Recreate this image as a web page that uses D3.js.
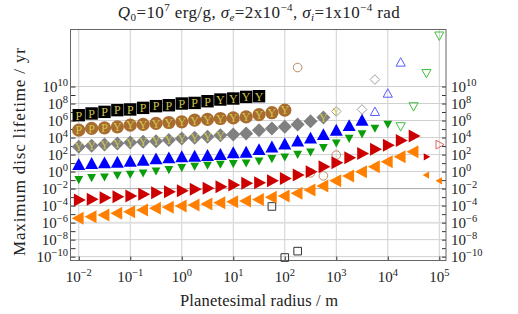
<!DOCTYPE html>
<html>
<head>
<meta charset="utf-8">
<script src="https://cdn.jsdelivr.net/npm/d3@7"></script>
<style>
  body { margin: 0; background: #fff; }
  svg { display: block; font-family: "Liberation Serif", "DejaVu Serif", serif; }
</style>
</head>
<body>
<svg id="chart" width="518" height="314"></svg>
<script>
// radius values, as log10(m), one marker every quarter decade
const radiusExp = [-2, -1.75, -1.5, -1.25, -1, -0.75, -0.5, -0.25, 0, 0.25, 0.5, 0.75, 1, 1.25, 1.5,
                   1.75, 2, 2.25, 2.5, 2.75, 3, 3.25, 3.5, 3.75, 4, 4.25, 4.5, 4.75, 5];

// lifetimes, as log10(yr); filled runs start at radiusExp[0]
const blackLogT = [6.63, 6.83, 7.02, 7.22, 7.30, 7.49, 7.69, 7.80, 8.00, 8.07, 8.27, 8.47, 8.59, 8.78, 8.86];
const blackTags = "PPPPPPPPPPPYYYY";
const blackOpenR = [1.75, 2, 2.25];
const blackOpenT = [-4.1, -10.1, -9.35];

const brownLogT = [4.87, 5.07, 5.14, 5.26, 5.46, 5.54, 5.66, 5.77, 5.85, 6.04, 6.13, 6.24, 6.31, 6.43, 6.69, 6.92, 7.22];
const brownTags = "PPPYYYYYYYYYYYYYY";
const brownOpenR = [2.25, 2.5, 2.75, 3];
const brownOpenT = [12.23, -0.15, -0.5, 1.94];

const grayLogT = [2.91, 3.03, 3.19, 3.31, 3.43, 3.50, 3.58, 3.70, 3.90, 3.97, 4.09, 4.28, 4.37, 4.48, 4.87, 5.05, 5.26, 5.52, 5.93, 6.36];
const grayTags = "YYYYYYYYYYYY       Y";
const grayOpenR = [3, 3.5, 3.75];
const grayOpenT = [7.07, 7.30, 10.82];
const grayOpenTags = "Y  ";

const blueLogT = [0.76, 0.88, 0.96, 1.03, 1.15, 1.27, 1.43, 1.55, 1.67, 1.74, 1.82, 1.94, 2.14, 2.21, 2.52, 2.82,
                  3.17, 3.52, 3.87, 4.28, 4.79, 5.34, 5.96];
const blueOpenR = [3.75, 4, 4.25];
const blueOpenT = [7.0, 9.15, 12.8];

const greenLogT = [-0.92, -0.68, -0.61, -0.41, -0.29, -0.14, 0.09, 0.26, 0.49, 0.65, 0.76, 0.88, 0.96, 1.03, 1.27,
                   1.55, 1.74, 2.05, 2.32, 2.84, 3.38, 3.93, 4.46, 5.11, 5.58];
const greenOpenR = [4.25, 4.5, 4.75, 5];
const greenOpenT = [5.34, 7.69, 11.6, 16.0];

const redLogT = [-3.35, -3.26, -3.07, -2.95, -2.87, -2.67, -2.48, -2.37, -2.25, -2.08, -1.96, -1.77, -1.57, -1.37,
                 -1.30, -1.08, -0.80, -0.41, -0.02, 0.56, 1.03, 1.64, 2.14, 2.64, 3.11, 3.64, 4.17];
const redSmallR = [4.75];
const redSmallT = [1.74];
const redOpenR = [5];
const redOpenT = [3.17];

const orangeLogT = [-5.49, -5.31, -5.11, -4.91, -4.72, -4.52, -4.32, -4.20, -4.05, -3.93, -3.81, -3.66, -3.54, -3.46,
                    -3.29, -3.03, -2.88, -2.56, -2.17, -1.70, -1.08, -0.53, -0.02, 0.56, 1.15, 1.74, 2.32];
const orangeSmallR = [4.75, 5];
const orangeSmallT = [-0.41, -1.08];

const xTickExp = [-2, -1, 0, 1, 2, 3, 4, 5];
const yTickExp = [-10, -8, -6, -4, -2, 0, 2, 4, 6, 8, 10];

(function() {
  const svg = d3.select("#chart");
  const pl = 70.5, pr = 446, pt = 29.5, pb = 260.5;

  const x = d3.scaleLog().domain([Math.pow(10, -2.16), Math.pow(10, 5.13)]).range([pl, pr]);
  const y = d3.scaleLog().domain([Math.pow(10, -10.45), Math.pow(10, 16.7)]).range([pb, pt]);

  // grid
  const grid = svg.append("g");
  grid.selectAll(".vg").data(xTickExp).enter().append("line")
    .attr("x1", d => x(Math.pow(10, d))).attr("x2", d => x(Math.pow(10, d)))
    .attr("y1", pt).attr("y2", pb)
    .attr("stroke", "#d0d0d0").attr("stroke-width", 1);
  grid.selectAll(".hg").data(yTickExp).enter().append("line")
    .attr("x1", pl).attr("x2", pr)
    .attr("y1", d => y(Math.pow(10, d))).attr("y2", d => y(Math.pow(10, d)))
    .attr("stroke", d => d === -6 ? "#e0e0e0" : (d === -2 ? "#a8a8a8" : "#d0d0d0"))
    .attr("stroke-width", d => d === -6 ? 2 : 1);

  // axes with inward ticks
  const yMinor = d3.range(-10, 11).map(e => Math.pow(10, e));
  svg.append("g").attr("transform", `translate(${pl},0)`)
    .call(d3.axisRight(y).tickValues(yMinor).tickFormat("").tickSizeOuter(0).tickSizeInner(5))
    .call(g => g.select(".domain").remove())
    .selectAll("line").attr("stroke", "#333");
  svg.append("g").attr("transform", `translate(${pr},0)`)
    .call(d3.axisLeft(y).tickValues(yMinor).tickFormat("").tickSizeOuter(0).tickSizeInner(4))
    .call(g => g.select(".domain").remove())
    .selectAll("line").attr("stroke", "#333");
  svg.append("g").attr("transform", `translate(0,${pb})`)
    .call(d3.axisTop(x).tickValues(xTickExp.map(e => Math.pow(10, e))).tickFormat("").tickSizeOuter(0).tickSizeInner(4))
    .call(g => g.select(".domain").remove())
    .selectAll("line").attr("stroke", "#333");

  svg.append("rect").attr("x", pl).attr("y", pt)
    .attr("width", pr - pl).attr("height", pb - pt)
    .attr("fill", "none").attr("stroke", "#666").attr("stroke-width", 1);

  // tick labels as 10^n
  function powLabel(sel) {
    sel.append("tspan").text("10");
    sel.append("tspan").attr("dy", -6).attr("font-size", 10.5)
      .text(d => d < 0 ? "\u2212" + (-d) : d);
  }
  svg.selectAll(".xl").data(xTickExp).enter().append("text")
    .attr("x", d => x(Math.pow(10, d))).attr("y", 282)
    .attr("text-anchor", "middle").attr("font-size", 15).attr("fill", "#222")
    .call(powLabel);
  svg.selectAll(".yl").data(yTickExp).enter().append("text")
    .attr("x", 68).attr("y", d => y(Math.pow(10, d)) + 5)
    .attr("text-anchor", "end").attr("font-size", 15).attr("fill", "#222")
    .call(powLabel);
  svg.selectAll(".yr").data(yTickExp).enter().append("text")
    .attr("x", 451).attr("y", d => y(Math.pow(10, d)) + 5)
    .attr("text-anchor", "start").attr("font-size", 15).attr("fill", "#222")
    .call(powLabel);

  // titles
  const title = svg.append("text").attr("x", 259).attr("y", 18)
    .attr("text-anchor", "middle").attr("font-size", 17).attr("letter-spacing", 0.4).attr("fill", "#222");
  title.append("tspan").attr("font-style", "italic").text("Q");
  title.append("tspan").attr("font-size", 11).attr("dy", 3).text("0");
  title.append("tspan").attr("dy", -3).text("=10");
  title.append("tspan").attr("font-size", 11).attr("dy", -7).text("7");
  title.append("tspan").attr("dy", 7).text(" erg/g, ");
  title.append("tspan").attr("font-style", "italic").text("\u03c3");
  title.append("tspan").attr("font-size", 11).attr("font-style", "italic").attr("dy", 3).text("e");
  title.append("tspan").attr("dy", -3).text("=2x10");
  title.append("tspan").attr("font-size", 11).attr("dy", -7).text("\u22124");
  title.append("tspan").attr("dy", 7).text(", ");
  title.append("tspan").attr("font-style", "italic").text("\u03c3");
  title.append("tspan").attr("font-size", 11).attr("font-style", "italic").attr("dy", 3).text("i");
  title.append("tspan").attr("dy", -3).text("=1x10");
  title.append("tspan").attr("font-size", 11).attr("dy", -7).text("\u22124");
  title.append("tspan").attr("dy", 7).text(" rad");

  svg.append("text").attr("x", 259).attr("y", 306)
    .attr("text-anchor", "middle").attr("font-size", 16.5).attr("fill", "#222")
    .attr("textLength", 158).attr("lengthAdjust", "spacing")
    .text("Planetesimal radius / m");
  svg.append("text").attr("transform", "translate(25,152) rotate(-90)")
    .attr("text-anchor", "middle").attr("font-size", 17).attr("fill", "#222")
    .attr("textLength", 208).attr("lengthAdjust", "spacing")
    .text("Maximum disc lifetime / yr");

  // marker shapes (centred paths)
  const shapes = {
    square: s => `M${-s},${-s}H${s}V${s}H${-s}Z`,
    diamond: s => `M0,${-s}L${s},0L0,${s}L${-s},0Z`,
    up: s => `M0,${-s * 1.08}L${s},${s * 0.75}L${-s},${s * 0.75}Z`,
    down: s => `M0,${s * 1.08}L${s},${-s * 0.75}L${-s},${-s * 0.75}Z`,
    right: s => `M${s * 1.08},0L${-s * 0.75},${s}L${-s * 0.75},${-s}Z`,
    leftw: s => `M${-s * 1.08},0L${s * 0.75},${s}L${s * 0.75},${-s}Z`
  };

  const plot = svg.append("g");
  const tagColor = "#cfc64a";

  function filledRun(values, shape, size, color, tags) {
    const pts = values.map((t, i) => ({ r: radiusExp[i], t: t, tag: tags ? tags[i] : " " }));
    const m = plot.append("g").selectAll("g").data(pts).enter().append("g")
      .attr("transform", d => `translate(${x(Math.pow(10, d.r))},${y(Math.pow(10, d.t))})`);
    if (shape === "circle") {
      m.append("circle").attr("r", size).attr("fill", color);
    } else {
      m.append("path").attr("d", shapes[shape](size)).attr("fill", color);
    }
    m.filter(d => d.tag && d.tag !== " ").append("text")
      .attr("text-anchor", "middle").attr("dy", "0.36em")
      .attr("font-size", 12).attr("fill", tagColor).text(d => d.tag);
  }

  function pointSet(rs, ts, shape, size, color, filled, tags) {
    const pts = rs.map((r, i) => ({ r: r, t: ts[i], tag: tags ? tags[i] : " " }));
    const m = plot.append("g").selectAll("g").data(pts).enter().append("g")
      .attr("transform", d => `translate(${x(Math.pow(10, d.r))},${y(Math.pow(10, d.t))})`);
    const el = shape === "circle"
      ? m.append("circle").attr("r", size)
      : m.append("path").attr("d", shapes[shape](size));
    el.attr("fill", filled ? color : "none").attr("stroke", filled ? "none" : color).attr("stroke-width", 1);
    m.filter(d => d.tag && d.tag !== " ").append("text")
      .attr("text-anchor", "middle").attr("dy", "0.36em")
      .attr("font-size", 11).attr("fill", tagColor).text(d => d.tag);
  }

  filledRun(blackLogT, "square", 6.2, "#000", blackTags);
  pointSet(blackOpenR, blackOpenT, "square", 3.8, "#333", false);

  filledRun(brownLogT, "circle", 6.6, "#a86c30", brownTags);
  pointSet(brownOpenR, brownOpenT, "circle", 4.3, "#c08a60", false);

  filledRun(grayLogT, "diamond", 7, "#808080", grayTags);
  pointSet(grayOpenR, grayOpenT, "diamond", 4.8, "#a0a0a0", false, grayOpenTags);

  filledRun(blueLogT, "up", 6.5, "#0000ff");
  pointSet(blueOpenR, blueOpenT, "up", 4.6, "#5a5aff", false);

  filledRun(greenLogT, "down", 4.4, "#0a9e0a");
  pointSet(greenOpenR, greenOpenT, "down", 4.6, "#40c040", false);

  filledRun(redLogT, "right", 6.5, "#cc0000");
  pointSet(redSmallR, redSmallT, "right", 3.6, "#cc0000", true);
  pointSet(redOpenR, redOpenT, "right", 4.4, "#e06060", false);

  filledRun(orangeLogT, "leftw", 6.5, "#ff8000");
  pointSet(orangeSmallR, orangeSmallT, "leftw", 3.6, "#ff8000", true);
})();
</script>
</body>
</html>
